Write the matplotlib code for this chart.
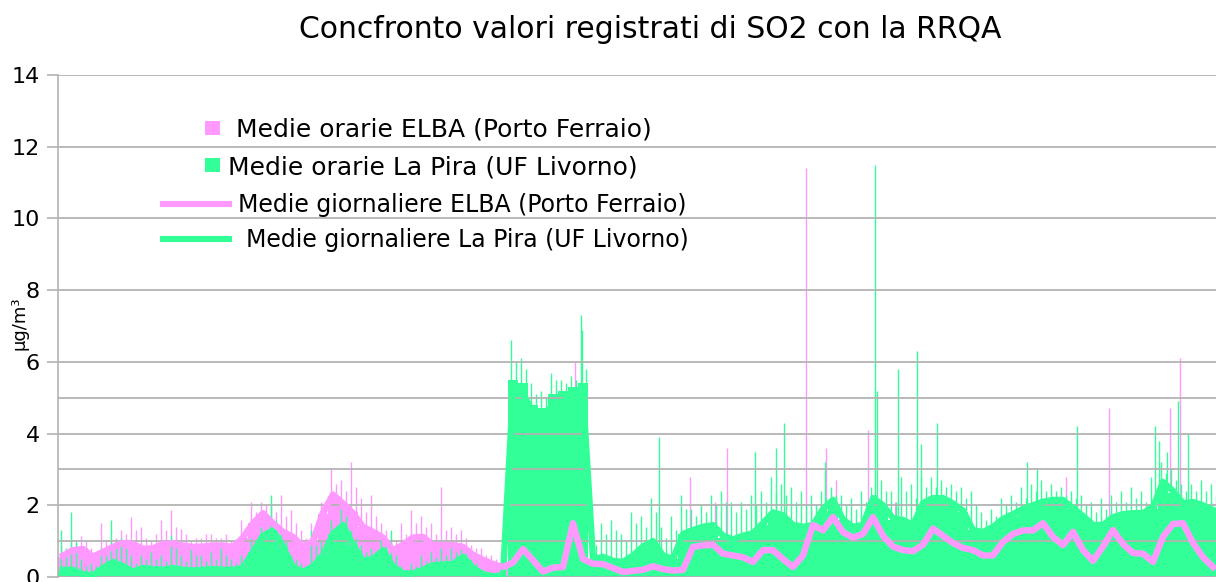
import matplotlib
matplotlib.use("Agg")
import matplotlib.pyplot as plt
from matplotlib.patches import Rectangle
from matplotlib.lines import Line2D
import numpy as np

# days of the period (hourly data summarised per day)
days = np.arange(116)

# daily means (ug/m3)
elba_daily = [0.60, 0.75, 0.78, 0.57, 0.70, 0.84, 0.95, 0.92, 0.79, 0.80,
              0.92, 0.94, 0.88, 0.84, 0.85, 0.88, 0.88, 0.84, 1.10, 1.50,
              1.78, 1.50, 1.26, 1.12, 0.85, 1.00, 1.80, 2.30, 2.05, 1.78,
              1.40, 1.26, 1.10, 0.75, 0.90, 1.10, 1.12, 0.89, 0.89, 0.89,
              0.84, 0.62, 0.48, 0.36, 0.28, 0.40, 0.78, 0.47, 0.15, 0.26,
              0.28, 1.50, 0.50, 0.37, 0.36, 0.25, 0.14, 0.17, 0.20, 0.30,
              0.22, 0.18, 0.20, 0.84, 0.88, 0.90, 0.65, 0.60, 0.55, 0.42,
              0.75, 0.75, 0.50, 0.28, 0.60, 1.45, 1.30, 1.67, 1.25, 1.10,
              1.20, 1.67, 1.15, 0.85, 0.75, 0.72, 0.90, 1.35, 1.15, 0.95,
              0.81, 0.75, 0.60, 0.60, 0.98, 1.20, 1.30, 1.30, 1.50, 1.12,
              0.89, 1.26, 0.75, 0.45, 0.85, 1.31, 0.92, 0.67, 0.65, 0.42,
              1.12, 1.48, 1.50, 0.95, 0.55, 0.28]

pira_daily = [0.20, 0.20, 0.08, 0.05, 0.25, 0.42, 0.30, 0.15, 0.25, 0.22,
              0.20, 0.25, 0.20, 0.18, 0.20, 0.22, 0.20, 0.20, 0.25, 0.70,
              1.15, 1.30, 0.84, 0.28, 0.14, 0.30, 0.60, 1.20, 1.45, 0.90,
              0.45, 0.50, 0.75, 0.30, 0.10, 0.10, 0.20, 0.33, 0.35, 0.36,
              0.56, 0.25, 0.08, 0.02, 0.05, 5.20, 5.10, 4.60, 4.50, 4.80,
              4.90, 5.00, 5.10, 0.50, 0.56, 0.45, 0.42, 0.60, 0.85, 1.00,
              0.60, 0.50, 1.20, 1.31, 1.40, 1.45, 1.15, 1.05, 1.15, 1.22,
              1.50, 1.80, 1.72, 1.45, 1.40, 1.45, 1.90, 2.15, 1.60, 1.40,
              1.45, 2.20, 2.00, 1.64, 1.59, 1.45, 2.06, 2.20, 2.20, 2.05,
              1.85, 1.31, 1.25, 1.40, 1.62, 1.75, 1.90, 2.00, 2.10, 2.15,
              2.15, 1.92, 1.70, 1.45, 1.45, 1.67, 1.75, 1.78, 1.78, 1.95,
              2.65, 2.40, 2.06, 2.09, 2.00, 1.87]

# hourly values per day: level filled by most hours, highest and second highest hour
elba_hourly_base = [0.55, 0.75, 0.80, 0.60, 0.70, 0.85, 0.95, 0.95, 0.80, 0.85,
                    0.95, 0.95, 0.90, 0.85, 0.85, 0.90, 0.90, 0.85, 1.10, 1.50,
                    1.75, 1.50, 1.30, 1.10, 0.85, 1.00, 1.75, 2.25, 2.05, 1.80,
                    1.40, 1.30, 1.10, 0.75, 0.90, 1.10, 1.10, 0.90, 0.90, 0.90,
                    0.85, 0.65, 0.50, 0.35, 0.25, 0.30, 0.60, 0.35, 0.10, 0.20,
                    0.20, 0.80, 0.35, 0.25, 0.25, 0.18, 0.10, 0.12, 0.15, 0.22,
                    0.15, 0.12, 0.15, 0.65, 0.70, 0.70, 0.50, 0.45, 0.40, 0.30,
                    0.55, 0.55, 0.35, 0.20, 0.45, 1.10, 1.00, 1.30, 0.95, 0.85,
                    0.90, 1.30, 0.90, 0.65, 0.55, 0.55, 0.70, 1.05, 0.90, 0.75,
                    0.60, 0.55, 0.45, 0.45, 0.75, 0.95, 1.00, 1.00, 1.20, 0.85,
                    0.70, 1.00, 0.55, 0.35, 0.65, 1.00, 0.70, 0.50, 0.50, 0.30,
                    0.85, 1.15, 1.20, 0.75, 0.40, 0.20]

elba_hourly_peak = [0.90, 1.00, 1.15, 0.80, 1.50, 1.00, 1.30, 1.68, 1.40, 1.00,
                    1.60, 1.87, 1.35, 1.00, 1.10, 1.20, 1.10, 1.00, 1.60, 2.10,
                    2.10, 2.00, 2.30, 1.87, 1.30, 1.50, 2.10, 3.00, 2.70, 3.20,
                    2.20, 2.30, 1.50, 1.10, 1.50, 1.87, 1.70, 1.50, 2.50, 1.40,
                    1.30, 0.90, 0.80, 0.60, 0.40, 0.60, 1.00, 0.70, 0.40, 0.50,
                    0.50, 1.20, 0.90, 0.60, 0.50, 0.40, 0.30, 0.40, 0.50, 0.60,
                    0.50, 0.40, 0.50, 1.30, 1.40, 1.50, 1.20, 1.00, 0.90, 0.80,
                    1.20, 1.10, 0.90, 0.60, 1.00, 1.90, 1.80, 2.30, 1.70, 1.60,
                    1.70, 2.10, 1.60, 1.30, 1.20, 1.20, 1.40, 1.90, 1.60, 1.40,
                    1.30, 1.20, 1.10, 1.10, 1.50, 1.70, 1.80, 1.80, 2.00, 1.60,
                    1.40, 1.90, 1.20, 0.90, 1.67, 1.90, 1.40, 1.10, 1.10, 0.90,
                    1.60, 2.10, 2.20, 1.50, 1.00, 0.70]

elba_hourly_second = [0.75, 0.95, 1.00, 0.70, 1.00, 1.10, 1.20, 1.30, 1.10, 1.20,
                      1.30, 1.40, 1.20, 1.10, 1.20, 1.10, 1.20, 1.00, 1.40, 1.80,
                      2.00, 1.80, 1.70, 1.50, 1.10, 1.30, 2.00, 2.60, 2.40, 2.50,
                      1.80, 1.70, 1.30, 1.00, 1.20, 1.50, 1.40, 1.20, 1.30, 1.20,
                      1.10, 0.80, 0.60, 0.50, 0.35, 0.50, 0.90, 0.60, 0.30, 0.40,
                      0.40, 1.00, 0.70, 0.50, 0.40, 0.30, 0.25, 0.30, 0.40, 0.50,
                      0.40, 0.30, 0.40, 1.10, 1.20, 1.20, 1.00, 0.90, 0.80, 0.60,
                      1.00, 1.00, 0.70, 0.50, 0.80, 1.70, 1.60, 2.00, 1.50, 1.40,
                      1.50, 1.90, 1.40, 1.10, 1.00, 1.00, 1.20, 1.60, 1.40, 1.20,
                      1.10, 1.00, 0.90, 0.90, 1.30, 1.50, 1.60, 1.60, 1.80, 1.40,
                      1.20, 1.60, 1.00, 0.70, 1.20, 1.60, 1.20, 0.90, 0.90, 0.70,
                      1.40, 1.80, 1.90, 1.30, 0.80, 0.50]

pira_hourly_base = [0.20, 0.20, 0.08, 0.05, 0.25, 0.40, 0.30, 0.15, 0.20, 0.20,
                    0.20, 0.25, 0.20, 0.18, 0.20, 0.20, 0.20, 0.20, 0.25, 0.70,
                    1.10, 1.30, 0.85, 0.30, 0.15, 0.30, 0.60, 1.20, 1.40, 0.90,
                    0.45, 0.50, 0.75, 0.30, 0.10, 0.10, 0.20, 0.30, 0.35, 0.35,
                    0.55, 0.25, 0.08, 0.02, 0.03, 5.50, 5.40, 4.80, 4.70, 5.10,
                    5.20, 5.30, 5.40, 0.45, 0.55, 0.45, 0.40, 0.60, 0.80, 1.00,
                    0.60, 0.50, 1.20, 1.30, 1.35, 1.40, 1.10, 1.00, 1.10, 1.20,
                    1.45, 1.75, 1.70, 1.45, 1.40, 1.45, 1.85, 2.10, 1.60, 1.40,
                    1.45, 2.10, 2.00, 1.60, 1.55, 1.45, 2.00, 2.15, 2.15, 2.00,
                    1.80, 1.30, 1.25, 1.40, 1.60, 1.70, 1.85, 1.95, 2.05, 2.10,
                    2.10, 1.90, 1.70, 1.45, 1.45, 1.65, 1.70, 1.75, 1.75, 1.90,
                    2.55, 2.35, 2.05, 2.05, 1.95, 1.85]

pira_hourly_peak = [1.30, 1.80, 0.50, 0.40, 0.80, 1.60, 1.10, 0.60, 0.60, 0.70,
                    0.60, 1.17, 0.60, 0.80, 0.60, 0.70, 0.80, 0.50, 0.60, 1.10,
                    1.40, 2.30, 1.20, 0.60, 0.40, 1.30, 1.00, 1.60, 1.90, 1.30,
                    0.90, 0.80, 1.00, 1.30, 0.30, 0.40, 0.60, 0.70, 0.80, 0.90,
                    0.90, 0.50, 0.20, 0.10, 0.10, 6.60, 6.10, 5.40, 5.20, 5.70,
                    5.50, 5.60, 7.30, 1.20, 1.50, 1.60, 1.20, 1.80, 1.70, 2.20,
                    1.40, 1.70, 2.30, 1.90, 2.00, 2.30, 2.40, 2.10, 2.10, 2.30,
                    2.40, 2.80, 2.60, 2.50, 2.40, 2.30, 2.40, 2.50, 2.30, 2.20,
                    2.40, 2.50, 2.70, 2.40, 2.80, 2.60, 2.80, 2.80, 2.70, 2.60,
                    2.50, 2.40, 1.80, 1.90, 2.20, 2.30, 2.50, 2.60, 2.70, 2.60,
                    2.50, 2.40, 2.30, 2.10, 2.20, 2.30, 2.40, 2.50, 2.40, 2.80,
                    3.20, 3.00, 2.60, 2.60, 2.70, 2.60]

pira_hourly_second = [0.80, 1.00, 0.30, 0.30, 0.60, 1.00, 0.80, 0.40, 0.50, 0.50,
                      0.45, 0.80, 0.45, 0.60, 0.45, 0.50, 0.60, 0.40, 0.45, 0.90,
                      1.30, 1.60, 1.00, 0.50, 0.30, 0.90, 0.80, 1.40, 1.70, 1.10,
                      0.70, 0.70, 0.90, 0.60, 0.20, 0.30, 0.45, 0.55, 0.60, 0.70,
                      0.80, 0.40, 0.15, 0.05, 0.05, 6.00, 5.80, 5.10, 5.00, 5.50,
                      5.40, 5.50, 5.80, 0.90, 1.20, 1.30, 1.00, 1.50, 1.40, 1.80,
                      1.10, 1.30, 1.90, 1.70, 1.80, 2.00, 2.10, 1.80, 1.90, 2.00,
                      2.10, 2.40, 2.30, 2.10, 2.00, 2.00, 2.20, 2.30, 2.00, 1.90,
                      2.10, 2.30, 2.40, 2.10, 2.40, 2.20, 2.50, 2.50, 2.50, 2.40,
                      2.20, 2.00, 1.60, 1.70, 2.00, 2.10, 2.20, 2.40, 2.40, 2.40,
                      2.30, 2.20, 2.00, 1.80, 1.90, 2.10, 2.10, 2.20, 2.10, 2.40,
                      2.90, 2.70, 2.40, 2.40, 2.40, 2.30]

# isolated high hours (day position, value)
elba_spike_day = [51.2, 62.7, 65.2, 66.4, 74.3, 76.3, 77.3, 80.5, 83.2, 100.3, 104.6, 110.7, 111.7]
elba_spike_val = [6.0, 2.8, 2.1, 3.6, 11.4, 3.6, 2.7, 4.1, 2.1, 2.8, 4.7, 4.7, 6.1]
pira_spike_day = [51.9, 59.6, 69.2, 71.3, 72.1, 76.2, 81.2, 81.4, 83.5, 85.4,
                  85.8, 87.4, 96.4, 97.4, 101.4, 109.2, 109.6, 110.4, 111.5, 112.5]
pira_spike_val = [6.9, 3.9, 3.5, 3.6, 4.3, 3.2, 11.5, 5.2, 5.8, 6.3,
                  3.7, 4.3, 3.2, 3.0, 4.2, 4.2, 3.8, 3.5, 4.9, 4.0]

labels = ["Medie orarie ELBA (Porto Ferraio)",
          "Medie orarie La Pira (UF Livorno)",
          "Medie giornaliere ELBA (Porto Ferraio)",
          "Medie giornaliere La Pira (UF Livorno)"]

PINK = "#ff99ff"
GREEN = "#33ff99"
GRID = "#b3b3b3"

plt.rcParams['font.family'] = ['DejaVu Sans']

W, H = 1216, 582
fig = plt.figure(figsize=(W / 100, H / 100), dpi=100)
ax = fig.add_axes([58 / W, 5 / H, (W - 58) / W, 502 / H])


def draw_hourly(base, peak, second, spike_day, spike_val, color, z):
    ax.bar(days, base, width=1.0, color=color, linewidth=0, zorder=z)
    ax.vlines(days - 0.25, 0, peak, color=color, linewidth=1.0, zorder=z)
    ax.vlines(days + 0.25, 0, second, color=color, linewidth=1.0, zorder=z)
    ax.vlines(spike_day, 0, spike_val, color=color, linewidth=1.0, zorder=z)


draw_hourly(elba_hourly_base, elba_hourly_peak, elba_hourly_second,
            elba_spike_day, elba_spike_val, PINK, 1.0)
draw_hourly(pira_hourly_base, pira_hourly_peak, pira_hourly_second,
            pira_spike_day, pira_spike_val, GREEN, 1.1)

ax.plot(days, pira_daily, color=GREEN, linewidth=4.6, solid_joinstyle='round', zorder=3)
ax.plot(days, elba_daily, color=PINK, linewidth=4.6, solid_joinstyle='round', zorder=3.1)

ax.set_xlim(-0.5, 115.3)
ax.set_ylim(0, 14)
ax.set_yticks(np.arange(0, 15, 2))
ax.set_yticks([1, 3, 5], minor=True)
ax.set_xticks([])
ax.set_axisbelow(False)
ax.grid(axis='y', which='both', color=GRID, linewidth=1.3)
ax.tick_params(axis='y', which='major', length=8, width=1.2, color=GRID,
               pad=5, labelsize=16, labelcolor='black')
ax.tick_params(axis='y', which='minor', length=0)
for side in ['top', 'right', 'bottom']:
    ax.spines[side].set_visible(False)
ax.spines['left'].set_color(GRID)
ax.spines['left'].set_linewidth(1.2)

# title and axis label
fig.text(650 / W, 1 - 38 / H, "Concfronto valori registrati di SO2 con la RRQA",
         ha='center', va='baseline', fontsize=21.5)
fig.text(19 / W, 1 - 323 / H, "µg/m³", rotation=90, ha='center', va='center', fontsize=13)

# legend drawn inside the plot area
fig.add_artist(Rectangle((205 / W, 1 - 135 / H), 15 / W, 14 / H,
                         transform=fig.transFigure, color=PINK, lw=0))
fig.add_artist(Rectangle((205 / W, 1 - 172 / H), 15 / W, 14 / H,
                         transform=fig.transFigure, color=GREEN, lw=0))
fig.add_artist(Line2D([163 / W, 229 / W], [1 - 204 / H, 1 - 204 / H],
                      transform=fig.transFigure, color=PINK, linewidth=4.4))
fig.add_artist(Line2D([163 / W, 229 / W], [1 - 239 / H, 1 - 239 / H],
                      transform=fig.transFigure, color=GREEN, linewidth=4.4))
fig.text(236 / W, 1 - 136 / H, labels[0], ha='left', va='baseline', fontsize=18)
fig.text(228 / W, 1 - 174 / H, labels[1], ha='left', va='baseline', fontsize=18)
fig.text(238 / W, 1 - 212 / H, labels[2], ha='left', va='baseline', fontsize=17)
fig.text(246 / W, 1 - 247 / H, labels[3], ha='left', va='baseline', fontsize=17)

fig.savefig("out.png", dpi=100)
